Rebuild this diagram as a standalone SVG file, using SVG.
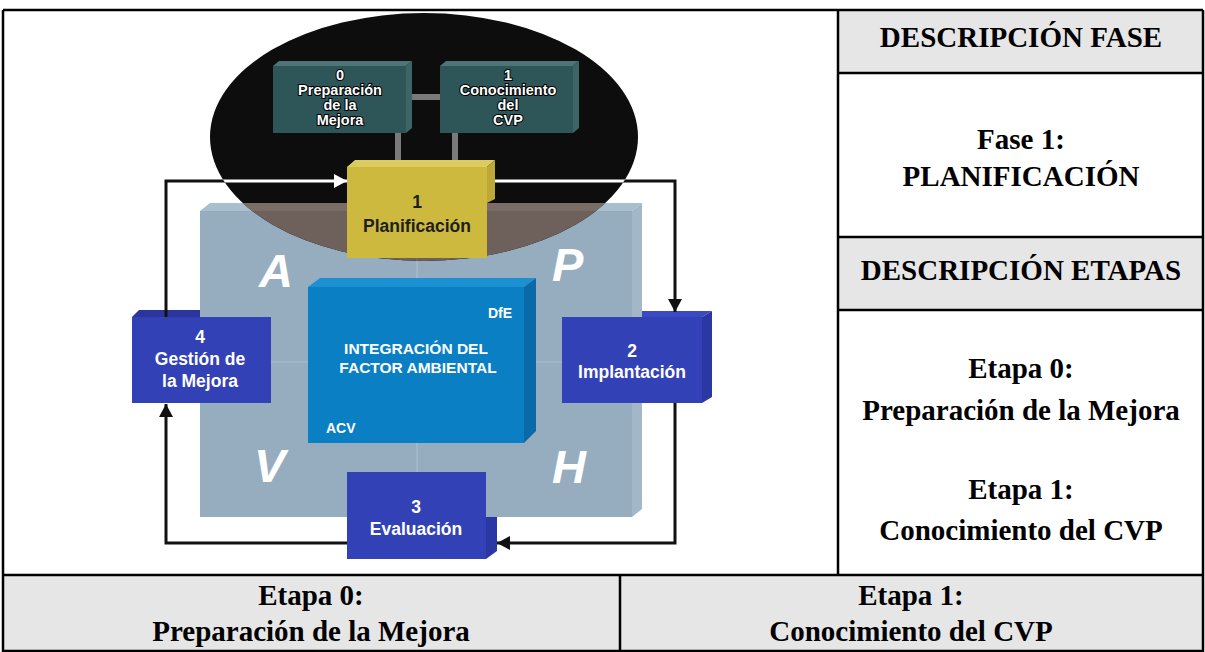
<svg xmlns="http://www.w3.org/2000/svg" width="1205" height="652" viewBox="0 0 1205 652">
<defs>
<style>
.tb{font-family:"Liberation Serif","Times New Roman",serif;font-weight:bold;font-size:29px;fill:#000;text-anchor:middle}
.bx{font-family:"Liberation Sans",Arial,sans-serif;font-weight:bold;font-size:17.5px;text-anchor:middle;fill:#fff}
.dk{fill:#1e1e1e}
.tl{font-family:"Liberation Sans",Arial,sans-serif;font-weight:bold;font-size:14.5px;fill:#fff;stroke:#000;stroke-width:2;paint-order:stroke;text-anchor:middle}
.sm{font-family:"Liberation Sans",Arial,sans-serif;font-weight:bold;font-size:14px;fill:#fff}
.mid{font-family:"Liberation Sans",Arial,sans-serif;font-weight:bold;font-size:15.5px;fill:#fff;text-anchor:middle}
.big{font-family:"Liberation Sans",Arial,sans-serif;font-weight:bold;font-style:italic;font-size:47px;fill:#fff}
.ln{fill:none;stroke:#111;stroke-width:3}
.wl{fill:none;stroke:#fff;stroke-width:3}
.grid{stroke:#a9bdcc;stroke-width:1.2}
.cell{fill:#e6e6e6}
.rule{stroke:#000;stroke-width:2.5;fill:none}
.bar{fill:#7a7a7a}
</style>
<marker id="ah" markerUnits="userSpaceOnUse" markerWidth="14" markerHeight="14" refX="13" refY="7" orient="auto"><path d="M0,0 L13,7 L0,14 z" fill="#111"/></marker>
<marker id="ahw" markerUnits="userSpaceOnUse" markerWidth="14" markerHeight="14" refX="13" refY="7" orient="auto"><path d="M0,0 L13,7 L0,14 z" fill="#fff"/></marker>
<clipPath id="ell"><ellipse cx="424" cy="137" rx="214" ry="124"/></clipPath>
</defs>
<rect x="0" y="0" width="1205" height="652" fill="#fff"/>

<g id="table">
<rect class="cell" x="838" y="10" width="365" height="63"/>
<rect class="cell" x="838" y="237" width="365" height="73"/>
<rect class="cell" x="3" y="575" width="1200" height="77"/>
<path class="rule" d="M3,10 H1203 M3,10 V652 M1203,10 V652 M838,10 V575 M838,73 H1203 M838,237 H1203 M838,310 H1203 M3,575 H1203 M620,575 V652 M3,651 H1203"/>
<text class="tb" x="1021" y="47">DESCRIPCIÓN FASE</text>
<text class="tb" x="1021" y="149">Fase 1:</text>
<text class="tb" x="1021" y="186">PLANIFICACIÓN</text>
<text class="tb" x="1021" y="280">DESCRIPCIÓN ETAPAS</text>
<text class="tb" x="1021" y="378">Etapa 0:</text>
<text class="tb" x="1021" y="420">Preparación de la Mejora</text>
<text class="tb" x="1021" y="499">Etapa 1:</text>
<text class="tb" x="1021" y="540">Conocimiento del CVP</text>
<text class="tb" x="311" y="605">Etapa 0:</text>
<text class="tb" x="311" y="641">Preparación de la Mejora</text>
<text class="tb" x="911" y="605">Etapa 1:</text>
<text class="tb" x="911" y="641">Conocimiento del CVP</text>
</g>

<g id="backdrop">
<polygon points="132,317 139,310 200,310 200,317" fill="#2a369c"/>
<polygon points="562,317 570,311 712,311 702,317" fill="#3b4ac4"/>
<polygon points="200,211 210,203 642,203 632,211" fill="#a9bfce"/>
<polygon points="632,211 642,203 642,509 632,517" fill="#a2b8c8"/>
<rect x="200" y="211" width="432" height="306" fill="#96adbf"/>
<path class="grid" d="M417,211 V517 M200,362 H632"/>
<text class="big" x="259" y="287">A</text>
<text class="big" x="552" y="281">P</text>
<text class="big" x="254" y="482">V</text>
<text class="big" x="552" y="483">H</text>
</g>

<g id="focus">
<ellipse cx="424" cy="137" rx="214" ry="124" fill="#0e0d0d"/>
<g clip-path="url(#ell)">
<rect x="200" y="203" width="442" height="314" fill="#6e605b"/>
<rect x="200" y="203" width="442" height="8" fill="#7a6c67"/>
<path d="M417,211 V300" stroke="#7d706b" stroke-width="1.2"/>
</g>
</g>

<g id="connectors">
<rect class="bar" x="406" y="94" width="34" height="6"/>
<rect class="bar" x="395" y="133" width="6" height="31"/>
<rect class="bar" x="452" y="133" width="6" height="31"/>
<path class="ln" d="M166,317 V181 H347" marker-end="url(#ah)"/>
<path class="ln" d="M495,181 H675 V312" marker-end="url(#ah)"/>
<path class="ln" d="M675,403 V543 H497" marker-end="url(#ah)"/>
<path class="ln" d="M347,543 H166 V404" marker-end="url(#ah)"/>
<g clip-path="url(#ell)">
<path class="wl" d="M166,317 V181 H347" marker-end="url(#ahw)"/>
<path class="wl" d="M495,181 H675 V312"/>
</g>
</g>

<g id="node-prep">
<polygon points="273,66 279,61 412,61 406,66" fill="#4e7476"/>
<polygon points="406,66 412,61 412,128 406,133" fill="#3d6467"/>
<rect x="273" y="66" width="133" height="67" fill="#2e5557"/>
<text class="tl" x="340" y="80">0</text>
<text class="tl" x="340" y="95">Preparación</text>
<text class="tl" x="340" y="110">de la</text>
<text class="tl" x="340" y="125">Mejora</text>
</g>

<g id="node-conoc">
<polygon points="440,66 446,61 579,61 573,66" fill="#4e7476"/>
<polygon points="573,66 579,61 579,128 573,133" fill="#3d6467"/>
<rect x="440" y="66" width="133" height="67" fill="#2e5557"/>
<text class="tl" x="508" y="80">1</text>
<text class="tl" x="508" y="95">Conocimiento</text>
<text class="tl" x="508" y="110">del</text>
<text class="tl" x="508" y="125">CVP</text>
</g>

<g id="node-plan">
<polygon points="347,167 355,160 495,160 487,167" fill="#dccb5e"/>
<polygon points="487,167 495,160 495,199 487,203" fill="#bda936"/>
<rect x="347" y="167" width="140" height="91" fill="#cdb93e"/>
<text class="bx dk" x="417" y="208">1</text>
<text class="bx dk" x="417" y="232">Planificación</text>
</g>

<g id="node-center">
<polygon points="308,287 320,278 536,278 524,287" fill="#1d90d2"/>
<polygon points="524,287 536,278 536,431 524,443" fill="#0a69a7"/>
<rect x="308" y="287" width="216" height="156" fill="#0a7fc4"/>
<text class="sm" x="512" y="318" text-anchor="end">DfE</text>
<text class="mid" x="416" y="354">INTEGRACIÓN DEL</text>
<text class="mid" x="418" y="373">FACTOR AMBIENTAL</text>
<text class="sm" x="326" y="433">ACV</text>
</g>

<g id="node-gestion">
<rect x="132" y="317" width="139" height="86" fill="#3341b6"/>
<text class="bx" x="200" y="343">4</text>
<text class="bx" x="200" y="365">Gestión de</text>
<text class="bx" x="200" y="387">la Mejora</text>
</g>

<g id="node-implant">
<polygon points="702,317 712,311 712,397 702,403" fill="#2b38a4"/>
<rect x="562" y="317" width="140" height="86" fill="#3341b6"/>
<text class="bx" x="632" y="357">2</text>
<text class="bx" x="632" y="378">Implantación</text>
</g>

<g id="node-eval">
<polygon points="486,517 497,517 497,551 486,559" fill="#2b38a4"/>
<rect x="347" y="472" width="139" height="87" fill="#3341b6"/>
<text class="bx" x="416" y="513">3</text>
<text class="bx" x="416" y="535">Evaluación</text>
</g>
</svg>
